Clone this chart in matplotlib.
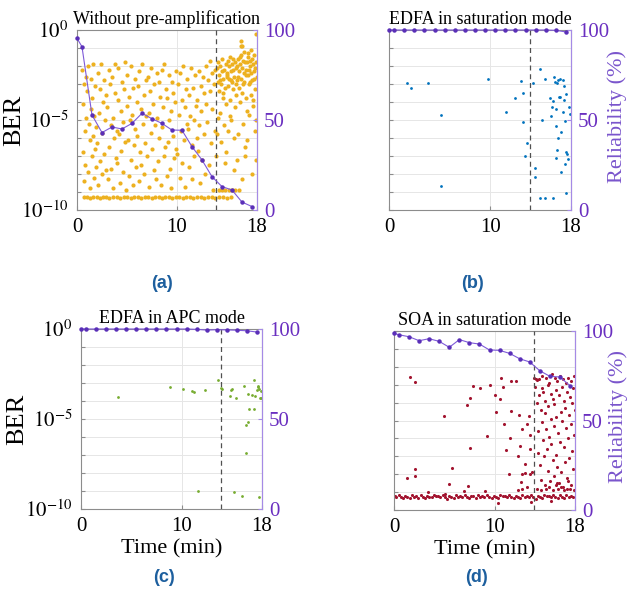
import numpy as np
import matplotlib.pyplot as plt

plt.rcParams['font.family'] = 'Liberation Serif'
plt.rcParams['mathtext.fontset'] = 'stix'

# ---- data (time in min, BER as log10) ----
t_a = [0.55, 0.6, 0.65, 0.7, 0.75, 0.8, 0.85, 0.9, 0.95,
       1.05, 1.1, 1.15, 1.2, 1.3, 1.35, 1.4, 1.45, 1.5, 1.55, 1.6, 1.65, 1.7, 1.75, 1.8, 1.85, 1.9, 1.95,
       2.02, 2.1, 2.15, 2.22, 2.3, 2.35, 2.42, 2.5, 2.55, 2.62, 2.7, 2.75, 2.82, 2.9, 2.95,
       3.05, 3.1, 3.18, 3.25, 3.3, 3.38, 3.45, 3.5, 3.58, 3.65, 3.7, 3.78, 3.85, 3.9, 3.97,
       4.02, 4.1, 4.15, 4.22, 4.3, 4.38, 4.45, 4.5, 4.58, 4.65, 4.72, 4.8, 4.85, 4.92, 4.98,
       5.05, 5.12, 5.18, 5.25, 5.32, 5.4, 5.45, 5.52, 5.6, 5.65, 5.72, 5.8, 5.85, 5.92, 5.98,
       6.02, 6.1, 6.18, 6.25, 6.3, 6.38, 6.45, 6.52, 6.6, 6.68, 6.75, 6.8, 6.88, 6.95,
       7.05, 7.1, 7.18, 7.25, 7.32, 7.4, 7.45, 7.52, 7.6, 7.68, 7.75, 7.82, 7.9, 7.96,
       8.05, 8.12, 8.2, 8.25, 8.32, 8.4, 8.48, 8.55, 8.6, 8.68, 8.75, 8.82, 8.9, 8.96,
       9.03, 9.1, 9.18, 9.25, 9.3, 9.38, 9.45, 9.52, 9.6, 9.65, 9.72, 9.8, 9.88, 9.95,
       10.05, 10.12, 10.2, 10.28, 10.35, 10.42, 10.5, 10.55, 10.62, 10.7, 10.78, 10.85, 10.92, 10.97,
       11.05, 11.1, 11.18, 11.25, 11.32, 11.4, 11.48, 11.55, 11.6, 11.68, 11.75, 11.82, 11.9, 11.96,
       12.03, 12.1, 12.18, 12.25, 12.3, 12.38, 12.45, 12.52, 12.6, 12.68, 12.75, 12.82, 12.88, 12.95,
       13.05, 13.12, 13.2, 13.28, 13.35, 13.42, 13.5, 13.55, 13.62, 13.7, 13.78, 13.85, 13.92,
       14.02, 14.08, 14.12, 14.18, 14.22, 14.28, 14.32, 14.38, 14.42, 14.48, 14.52, 14.58, 14.62, 14.68,
       14.72, 14.78, 14.82, 14.88, 14.92, 14.97, 14.05, 14.35, 14.65, 14.95, 14.25, 14.55, 14.85, 14.15,
       15.02, 15.08, 15.12, 15.18, 15.22, 15.28, 15.32, 15.38, 15.42, 15.48, 15.52, 15.58, 15.62, 15.68, 15.72,
       15.78, 15.82, 15.88, 15.92, 15.97, 15.05, 15.35, 15.65, 15.95, 15.25, 15.55, 15.85, 15.15, 15.45, 15.75,
       16.02, 16.08, 16.12, 16.18, 16.22, 16.28, 16.32, 16.38, 16.42, 16.48, 16.52, 16.58, 16.62, 16.68, 16.72,
       16.78, 16.82, 16.88, 16.92, 16.97, 16.05, 16.35, 16.65, 16.95, 16.25, 16.55, 16.85, 16.15, 16.45, 16.75,
       16.4, 16.5,
       17.02, 17.08, 17.12, 17.18, 17.22, 17.28, 17.32, 17.38, 17.42, 17.48, 17.52, 17.58, 17.62, 17.68, 17.72,
       17.78, 17.82, 17.88, 17.92, 17.97, 17.05, 17.35, 17.65, 17.95, 17.25, 17.55, 17.85, 17.15, 17.45, 17.75,
       17.9]
ber_a = [-2.2, -6.8, -4.1, -8.4, -3.0, -5.6, -7.5, -2.6, -4.9,
         -3.4, -7.9, -2.0, -5.2, -8.8, -6.1, -2.7, -4.4, -7.0, -3.8, -5.9, -1.9, -8.2, -4.8, -6.6, -3.1, -7.6, -5.4,
         -6.3, -2.4, -8.6, -4.6, -3.3, -7.3, -1.9, -5.7, -8.0, -4.0, -6.9, -2.8, -5.0, -7.8, -3.6,
         -4.3, -8.3, -2.2, -6.5, -3.0, -5.3, -7.7, -2.6, -4.9, -8.8, -6.0, -3.5, -1.9, -7.1, -5.6,
         -7.4, -3.9, -2.1, -5.8, -8.5, -4.5, -6.7, -2.9, -5.1, -7.9, -3.3, -6.2, -1.8, -8.9, -4.2,
         -2.5, -6.1, -8.1, -3.7, -5.0, -7.2, -2.0, -4.7, -8.6, -3.2, -6.4, -5.5, -2.7, -7.6, -4.0,
         -5.9, -3.1, -8.4, -2.3, -6.8, -4.4, -7.5, -1.9, -5.2, -3.6, -8.0, -6.3, -2.8, -4.8,
         -7.0, -2.6, -4.6, -8.7, -3.4, -5.7, -2.1, -6.6, -4.1, -7.8, -3.0, -5.3, -8.3, -2.4,
         -4.9, -7.3, -2.9, -6.0, -3.7, -8.6, -2.2, -5.4, -4.3, -7.0, -1.9, -6.5, -3.3, -8.1,
         -3.8, -6.2, -2.5, -5.0, -7.7, -4.5, -8.8, -2.9, -5.9, -3.5, -7.1, -4.0, -6.6, -2.3,
         -6.9, -3.0, -4.7, -8.2, -2.4, -5.6, -3.9, -7.4, -2.0, -6.1, -4.3, -8.7, -3.3, -5.2,
         -2.7, -5.5, -7.6, -3.6, -4.8, -2.1, -6.4, -8.3, -3.2, -5.0, -7.0, -2.5, -4.2, -6.0,
         -3.9, -6.7, -2.3, -5.3, -8.5, -3.1, -4.5, -7.2, -2.6, -5.8, -3.5, -8.0, -4.1, -2.0,
         -5.1, -2.8, -7.5, -3.4, -1.7, -6.3, -4.4, -2.4, -8.9, -3.0, -5.6, -2.2, -7.0,
         -2.1, -2.9, -1.8, -3.4, -2.5, -4.6, -2.0, -3.0, -6.2, -2.3, -1.6, -3.8, -2.7, -5.3,
         -2.2, -7.4, -3.2, -1.9, -4.1, -2.6, -5.8, -2.8, -3.5, -6.8, -8.9, -8.9, -8.9, -4.9,
         -2.4, -1.7, -3.1, -2.0, -2.7, -3.9, -1.5, -2.3, -5.0, -2.9, -1.9, -3.3, -2.2, -6.0, -2.6,
         -1.8, -4.3, -2.1, -3.6, -7.2, -2.5, -4.8, -1.6, -3.0, -8.9, -8.9, -8.9, -5.6, -2.8, -7.8,
         -2.0, -2.6, -1.6, -3.2, -2.3, -1.9, -4.0, -2.7, -1.4, -3.5, -2.1, -5.2, -1.7, -2.9, -2.4,
         -6.5, -1.8, -3.8, -2.2, -4.5, -2.8, -1.5, -3.0, -2.5, -8.9, -8.3, -7.0, -5.8, -0.9, -1.2,
         -0.6, -0.9,
         -1.8, -2.5, -1.5, -2.2, -3.0, -1.7, -2.0, -3.6, -2.4, -1.6, -2.8, -1.9, -4.2, -2.3, -1.4,
         -3.3, -2.1, -5.0, -1.8, -2.6, -6.1, -2.9, -3.9, -7.2, -4.7, -8.0, -5.6, -1.3, -1.1, -2.7,
         -0.2]
band_t_a = [0.7, 1.0, 1.3, 1.6, 2.0, 2.3, 2.6, 2.9, 3.2, 3.6, 4.0, 4.3, 4.7, 5.0, 5.4, 5.7, 6.1, 6.4,
            6.8, 7.1, 7.5, 7.8, 8.2, 8.5, 8.8, 9.2, 9.5, 9.9, 10.2, 10.6, 10.9, 11.3, 11.6, 12.0, 12.4,
            12.7, 13.1, 13.5, 13.8, 14.2, 14.6, 15.0, 15.4]
band_ber_a = [-9.3, -9.28, -9.32, -9.3, -9.27, -9.33, -9.3, -9.29, -9.31, -9.3,
              -9.28, -9.32, -9.3, -9.27, -9.33, -9.3, -9.29, -9.31, -9.3, -9.28,
              -9.32, -9.3, -9.27, -9.33, -9.3, -9.29, -9.31, -9.3, -9.28, -9.32,
              -9.3, -9.27, -9.33, -9.3, -9.29, -9.31, -9.3, -9.28, -9.32, -9.3,
              -9.27, -9.33, -9.3]

t_b = [1.79, 2.15, 3.84, 5.19, 5.19, 9.76, 11.58, 12.51, 13.1, 13.27, 13.24, 13.63, 13.47, 14.2, 14.43,
       14.43, 14.96, 15.09, 14.92, 15.42, 15.42, 15.95, 16.02, 16.18, 16.15, 16.18, 16.28, 16.38, 16.48,
       16.48, 16.55, 16.61, 16.64, 16.71, 16.71, 16.81, 16.87, 16.91, 17.04, 17.04, 17.17, 17.24, 17.27,
       17.3, 17.4, 17.43, 17.53, 17.53, 17.5, 17.6, 17.7, 17.78, 17.86]
ber_b = [-2.93, -3.24, -2.94, -4.74, -8.65, -2.72, -4.57, -3.76, -2.83, -3.52, -5.09, -6.26, -6.98, -2.94,
         -7.65, -8.15, -2.19, -5.02, -9.33, -2.72, -9.33, -3.76, -4.78, -9.33, -4.26, -3.96, -2.63, -2.87,
         -5.31, -7.09, -4.41, -2.96, -6.69, -5.98, -2.78, -3.7, -2.74, -3.74, -5.67, -7.87, -4.54, -2.8,
         -3.09, -3.89, -7.44, -5.06, -9.07, -3.57, -6.76, -6.89, -7.19, -4.26, -4.65]

t_c = [3.67, 8.8, 10.19, 11.02, 11.28, 12.28, 11.68, 13.63, 13.93, 14.0, 14.79, 14.92, 15.02, 15.19, 15.42,
       15.98, 16.25, 16.38, 16.58, 16.38, 16.64, 16.74, 17.04, 17.17, 17.17, 17.27, 17.47, 17.57, 17.64,
       17.7, 17.77, 17.87, 17.93, 17.73]
ber_c = [-3.77, -3.23, -3.36, -3.46, -3.49, -3.38, -9.0, -2.83, -3.29, -3.36, -3.73, -3.4, -3.34, -9.04,
         -3.83, -9.28, -3.16, -5.34, -5.18, -6.89, -3.6, -4.42, -3.66, -4.42, -2.81, -3.73, -3.4, -3.23,
         -3.16, -3.33, -3.81, -3.86, -3.42, -9.32]

t_d = [1.56, 2.12, 4.94, 1.29, 2.12, 2.06, 5.43, 5.77, 7.82, 8.55, 7.52, 7.22, 7.52, 7.39, 6.96, 3.35,
       5.1, 9.08, 9.25,
       9.57, 10.64, 11.66, 12.16, 10.87, 10.07, 10.57, 10.14, 11.66, 12.4, 10.96, 13.19, 12.72, 11.53,
       12.56, 11.17, 12.33, 13.02, 11.4, 12.72, 13.05, 12.66, 13.55, 13.72, 13.55, 13.55, 13.39,
       13.96, 14.03, 14.11, 14.18, 14.24, 14.31, 14.37, 14.42, 14.47, 14.52, 14.58, 14.61, 14.67, 14.72,
       14.76, 14.83, 14.86, 14.91, 14.97, 15.02,
       15.06, 15.12, 15.15, 15.21, 15.27, 15.31, 15.36, 15.42, 15.44, 15.51, 15.57, 15.62, 15.66, 15.71,
       15.77, 15.81, 15.87, 15.92, 15.96,
       16.01, 16.07, 16.12, 16.16, 16.22, 16.26, 16.31, 16.37, 16.41, 16.46, 16.52, 16.56, 16.62, 16.66,
       16.71, 16.77, 16.81, 16.86, 16.92, 16.97,
       17.02, 17.06, 17.11, 17.17, 17.21, 17.27, 17.31, 17.36, 17.42, 17.46, 17.51, 17.57, 17.61, 17.67,
       17.72, 17.76, 17.82, 17.86, 17.91, 17.96,
       13.2, 14.2, 14.6, 15.1, 15.4, 15.8, 16.1, 16.3, 16.6, 16.9, 17.2, 17.6, 17.9, 12.3, 12.7, 15.6,
       13.6, 10.3, 16.2, 17.3]
ber_d = [-2.55, -2.83, -4.75, -8.21, -7.73, -8.1, -8.55, -7.67, -3.05, -3.2, -3.74, -4.13, -6.52, -8.66,
         -8.96, -9.0, -9.09, -8.96, -5.88,
         -3.02, -2.65, -2.81, -2.81, -3.11, -3.58, -3.82, -4.54, -4.49, -4.69, -5.21, -5.18, -5.47, -5.96,
         -6.44, -6.65, -7.0, -7.41, -8.0, -7.99, -7.95, -8.45, -7.99, -7.9, -6.57, -5.81, -4.73,
         -2.6, -3.1, -2.7, -4.0, -2.75, -5.6, -6.8, -2.7, -3.6, -7.5, -4.4, -8.3, -3.2, -5.1, -2.5, -6.1,
         -3.4, -7.0, -4.6, -8.6,
         -3.9, -2.6, -5.5, -6.6, -3.0, -7.8, -4.2, -2.9, -5.9, -8.4, -3.5, -4.9, -6.3, -2.4, -7.2, -3.8,
         -5.3, -8.1, -4.1,
         -2.6, -6.9, -3.3, -4.8, -7.6, -2.8, -5.7, -8.5, -3.6, -6.2, -2.5, -4.5, -7.9, -3.1, -5.0, -8.7,
         -2.7, -6.5, -3.9, -4.3,
         -7.3, -2.9, -5.4, -8.2, -3.4, -6.0, -2.6, -4.7, -7.1, -3.7, -8.8, -5.2, -2.8, -6.7, -4.0, -7.7,
         -3.2, -5.8, -2.5, -4.4,
         -8.7, -8.8, -8.9, -8.8, -8.7, -8.9, -8.6, -8.8, -8.7, -8.9, -8.8, -8.6, -8.9, -8.9, -8.8, -9.5,
         -9.55, -9.6, -8.5, -8.4]
band_t_d = [0.1, 0.2, 0.45, 0.65, 0.9, 1.1, 1.3, 1.55, 1.75, 2.0, 2.2, 2.4, 2.65, 2.85, 3.1, 3.3, 3.5,
            3.75, 3.95, 4.2, 4.4, 4.6, 4.85, 5.05, 5.3, 5.5, 5.7, 5.95, 6.15, 6.4, 6.6, 6.8, 7.05, 7.25,
            7.5, 7.7, 7.9, 8.15, 8.35, 8.6, 8.8, 9.0, 9.25, 9.45, 9.7, 9.9, 10.1, 10.35, 10.55, 10.8,
            11.0, 11.2, 11.45, 11.65, 11.9, 12.1, 12.3, 12.55, 12.75, 13.0, 13.2, 13.4, 13.65, 13.85,
            14.1, 14.3, 14.5, 14.75, 14.95, 15.2, 15.4, 15.6, 15.85, 16.05, 16.3, 16.5, 16.7, 16.95,
            17.15, 17.4, 17.6, 17.85]
band_ber_d = [-9.22, -9.3, -9.18, -9.28, -9.35, -9.2, -9.26, -9.32, -9.15, -9.25,
              -9.2, -9.31, -9.17, -9.27, -9.34, -9.22, -9.25, -9.3, -9.16, -9.24,
              -9.23, -9.29, -9.19, -9.28, -9.36, -9.21, -9.26, -9.33, -9.15, -9.25,
              -9.22, -9.3, -9.18, -9.27, -9.35, -9.2, -9.24, -9.32, -9.16, -9.26,
              -9.21, -9.3, -9.19, -9.28, -9.34, -9.2, -9.26, -9.31, -9.15, -9.24,
              -9.22, -9.29, -9.18, -9.27, -9.35, -9.21, -9.25, -9.32, -9.14, -9.25,
              -9.2, -9.3, -9.17, -9.28, -9.36, -9.2, -9.26, -9.33, -9.15, -9.24,
              -9.23, -9.3, -9.18, -9.27, -9.35, -9.19, -9.26, -9.32, -9.16, -9.25,
              -9.22, -9.3]

# reliability (%) on right axis
rel_t = [0, 0.5, 1.5, 2.5, 3.5, 4.5, 5.5, 6.5, 7.5, 8.5, 9.5, 10.5, 11.5, 12.5, 13.5, 14.5, 15.5, 16.5, 17.5]
rel_a = [95.4, 90.7, 52.8, 43.0, 46.1, 45.0, 48.1, 53.7, 50.7, 48.1, 44.4, 44.3, 35.2, 27.8, 18.5, 13.0,
         11.1, 4.4, 1.9]
rel_b = [100, 100, 100, 100, 100, 100, 100, 100, 100, 100, 100, 100, 100, 100, 100, 100, 100, 99.8, 98.9]
rel_c = [100, 100, 100, 100, 100, 100, 100, 100, 100, 100, 100, 100, 99.8, 99.4, 99.6, 99.5, 99.3, 99.0, 98.3]
rel_d = [98.7, 97.9, 96.8, 94.6, 95.7, 94.2, 90.9, 95.2, 93.5, 92.7, 89.4, 89.2, 87.5, 84.5, 82.7, 77.8,
         74.7, 74.3, 69.5]

PURPLE = '#6a2fc0'
LINE = '#7e5ad8'
GRIDC = '#e6e6e6'
SPINE = '#8c8c8c'

fig = plt.figure(figsize=(6.32, 5.96), dpi=100)


def panel(rect, pts, color, size, rel, title, ber_x, right_label, xlabel):
    ax = fig.add_axes(rect)
    for t, b in pts:
        ax.scatter(t, 10.0 ** np.array(b), s=size, c=color, linewidths=0, zorder=2)
    ax.set_yscale('log')
    ax.set_xlim(0, 18)
    ax.set_ylim(1e-10, 1)
    ax.set_yticks([10.0 ** k for k in range(-10, 1)])
    ax.yaxis.set_minor_locator(plt.NullLocator())
    if ber_x is not None:
        labs = ['' for k in range(-10, 1)]
        labs[0], labs[5], labs[10] = r'$10^{-10}$', r'$10^{-5}$', r'$10^{0}$'
        ax.set_yticklabels(labs)
        ax.set_ylabel('BER', fontsize=19)
        ax.yaxis.set_label_coords(ber_x, 0.5)
    else:
        ax.set_yticklabels([])
    ax.set_xticks([0, 10, 18])
    ax.tick_params(direction='in', length=3, color=SPINE, labelsize=15, pad=6)
    ax.grid(True, color=GRIDC, lw=0.7)
    ax.set_axisbelow(True)
    ax.axvline(13.9, color='#505050', ls=(0, (4, 3)), lw=0.9, zorder=3)
    for s in ax.spines.values():
        s.set_color(SPINE)
        s.set_linewidth(0.8)
    ax.set_title(title, fontsize=13, pad=4)
    if xlabel:
        ax.set_xlabel('Time (min)', fontsize=16, labelpad=2)

    ax2 = ax.twinx()
    ax2.plot(rel_t, rel, '-o', color=LINE, lw=0.8, ms=2.2, mfc='#5a2fb8', mec='#5a2fb8',
             clip_on=False, zorder=4)
    ax2.set_ylim(0, 100)
    ax2.set_yticks([0, 50, 100])
    ax2.tick_params(direction='in', length=3, color='#a58ae6', labelcolor=PURPLE, labelsize=15, pad=5)
    for k in ['left', 'top', 'bottom']:
        ax2.spines[k].set_visible(False)
    ax2.spines['right'].set_color('#a58ae6')
    ax2.spines['right'].set_linewidth(0.8)
    if right_label:
        ax2.set_ylabel('Reliability (%)', fontsize=16, color='#7a55cc')
        ax2.yaxis.set_label_coords(right_label, 0.52)
    return ax


panel([0.1218, 0.6477, 0.2848, 0.302],
      [(t_a, ber_a), (band_t_a, band_ber_a)], '#edb120', 9, rel_a,
      'Without pre-amplification', -0.285, None, False)
panel([0.6155, 0.6477, 0.288, 0.302],
      [(t_b, ber_b)], '#0072bd', 4, rel_b,
      'EDFA in saturation mode', None, 1.2, False)
panel([0.1282, 0.146, 0.2864, 0.302],
      [(t_c, ber_c)], '#77ac30', 4, rel_c,
      'EDFA in APC mode', -0.29, None, True)
panel([0.6234, 0.1443, 0.2864, 0.3003],
      [(t_d, ber_d), (band_t_d, band_ber_d)], '#a2142f', 5, rel_d,
      'SOA in saturation mode', None, 1.185, True)

for lab, x, y in [('(a)', 162, 284), ('(b)', 473, 284), ('(c)', 164, 578), ('(d)', 477, 578)]:
    fig.text(x / 632, 1 - y / 596, lab, family='Liberation Sans', weight='bold',
             color='#1d5f9e', fontsize=13, ha='center', va='center')

fig.savefig('out.png', dpi=100)
